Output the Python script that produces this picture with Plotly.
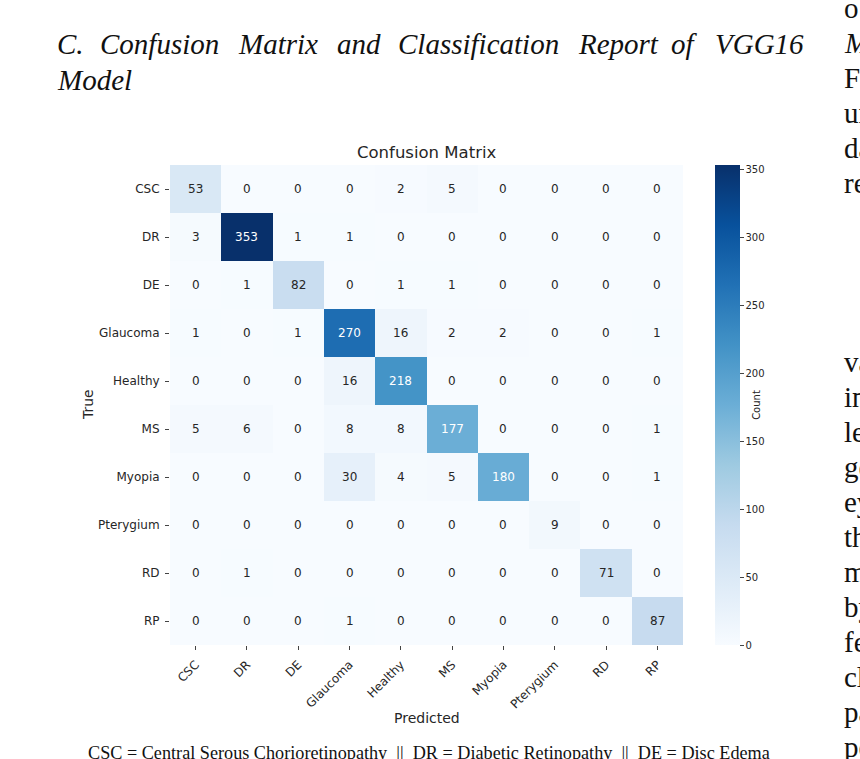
import plotly.graph_objects as go

# ---------------- data ----------------
classes = ["CSC", "DR", "DE", "Glaucoma", "Healthy", "MS", "Myopia", "Pterygium", "RD", "RP"]

row_csc = [53, 0, 0, 0, 2, 5, 0, 0, 0, 0]
row_dr = [3, 353, 1, 1, 0, 0, 0, 0, 0, 0]
row_de = [0, 1, 82, 0, 1, 1, 0, 0, 0, 0]
row_glaucoma = [1, 0, 1, 270, 16, 2, 2, 0, 0, 1]
row_healthy = [0, 0, 0, 16, 218, 0, 0, 0, 0, 0]
row_ms = [5, 6, 0, 8, 8, 177, 0, 0, 0, 1]
row_myopia = [0, 0, 0, 30, 4, 5, 180, 0, 0, 1]
row_pterygium = [0, 0, 0, 0, 0, 0, 0, 9, 0, 0]
row_rd = [0, 1, 0, 0, 0, 0, 0, 0, 71, 0]
row_rp = [0, 0, 0, 1, 0, 0, 0, 0, 0, 87]

cbar_ticks = [0, 50, 100, 150, 200, 250, 300, 350]

heading_words = ["C.", "Confusion", "Matrix", "and", "Classification", "Report", "of", "VGG16"]
heading_line2 = "Model"
caption = "CSC = Central Serous Chorioretinopathy \u00a0||\u00a0 DR = Diabetic Retinopathy \u00a0||\u00a0 DE = Disc Edema"
side_column = ["o", "<i>M</i>", "F", "un", "da", "re",
               "va", "in", "le", "ge", "ey", "th", "m", "by", "fe", "cl", "pa", "pe"]

z = [row_csc, row_dr, row_de, row_glaucoma, row_healthy,
     row_ms, row_myopia, row_pterygium, row_rd, row_rp]

# ---------------- styling ----------------
W, H = 860, 759
blues_hex = ["#f7fbff", "#deebf7", "#c6dbef", "#9ecae1", "#6baed6",
             "#4292c6", "#2171b5", "#08519c", "#08306b"]
blues = [[i / 8, c] for i, c in enumerate(blues_hex)]
zmax = max(max(r) for r in z)

SANS = "DejaVu Sans"
SERIF = "Liberation Serif, Times New Roman, serif"
TXT = "#262626"


def px_x(p):
    return p / W


def px_y(p):
    return 1 - p / H


def hex2rgb(h):
    h = h.lstrip("#")
    return tuple(int(h[i:i + 2], 16) for i in (0, 2, 4))


def color_at(t):
    t = min(max(t, 0), 1) * 8
    i = min(int(t), 7)
    f = t - i
    a, b = hex2rgb(blues_hex[i]), hex2rgb(blues_hex[i + 1])
    return tuple(a[k] + (b[k] - a[k]) * f for k in range(3))


def lum(rgb):
    out = []
    for c in rgb:
        c = c / 255
        out.append(c / 12.92 if c <= 0.03928 else ((c + 0.055) / 1.055) ** 2.4)
    return 0.2126 * out[0] + 0.7152 * out[1] + 0.0722 * out[2]


fig = go.Figure()
fig.add_trace(go.Heatmap(
    z=z, x=classes, y=classes,
    colorscale=blues, zmin=0, zmax=zmax,
    xgap=0, ygap=0, hoverinfo="skip",
    colorbar=dict(
        x=px_x(715), xanchor="left", xpad=0,
        y=px_y(405), yanchor="middle", ypad=0,
        len=480, lenmode="pixels",
        thickness=25, thicknessmode="pixels",
        outlinewidth=0,
        tickvals=cbar_ticks, ticks="outside", ticklen=4, tickwidth=1,
        tickcolor="#444",
        tickfont=dict(family=SANS, size=10, color=TXT),
        title=dict(text="Count", side="right", font=dict(family=SANS, size=10, color=TXT)),
    ),
))

annotations = []
for i, row in enumerate(z):
    for j, v in enumerate(row):
        col = "white" if lum(color_at(v / zmax)) < 0.408 else TXT
        annotations.append(dict(
            x=classes[j], y=classes[i], xref="x", yref="y", text=str(v),
            showarrow=False, font=dict(family=SANS, size=12, color=col)))

annotations += [
    dict(x=px_x(426.5), y=px_y(153), xref="paper", yref="paper", text="Confusion Matrix",
         showarrow=False, xanchor="center", yanchor="middle",
         font=dict(family=SANS, size=16.5, color=TXT)),
    dict(x=px_x(427), y=px_y(718), xref="paper", yref="paper", text="Predicted",
         showarrow=False, xanchor="center", yanchor="middle",
         font=dict(family=SANS, size=14, color=TXT)),
    dict(x=px_x(88), y=px_y(405), xref="paper", yref="paper", text="True", textangle=-90,
         showarrow=False, xanchor="center", yanchor="middle",
         font=dict(family=SANS, size=14, color=TXT)),
    dict(x=px_x(429), y=px_y(753), xref="paper", yref="paper", text=caption,
         showarrow=False, xanchor="center", yanchor="middle",
         font=dict(family=SERIF, size=18.2, color="#111")),
]

heading_x = [55, 98, 236, 335, 396, 576, 669, 713]
for w, xp in zip(heading_words, heading_x):
    annotations.append(dict(x=px_x(xp), y=px_y(44), xref="paper", yref="paper",
                            text="<i>" + w + "</i>", showarrow=False,
                            xanchor="left", yanchor="middle",
                            font=dict(family=SERIF, size=29, color="#111")))
annotations.append(dict(x=px_x(55), y=px_y(80), xref="paper", yref="paper",
                        text="<i>" + heading_line2 + "</i>", showarrow=False,
                        xanchor="left", yanchor="middle",
                        font=dict(family=SERIF, size=29, color="#111")))

side_y = [8, 43, 78, 113, 148, 183, 362, 397, 432, 467, 502, 537, 572, 607, 642, 677, 712, 747]
for t, yp in zip(side_column, side_y):
    annotations.append(dict(x=px_x(842), y=px_y(yp), xref="paper", yref="paper",
                            text=t, showarrow=False, xanchor="left", yanchor="middle",
                            font=dict(family=SERIF, size=29, color="#111")))

fig.update_layout(
    width=W, height=H,
    margin=dict(l=0, r=0, t=0, b=0),
    paper_bgcolor="white", plot_bgcolor="white",
    showlegend=False,
    xaxis=dict(domain=[px_x(170), px_x(683)], showgrid=False, zeroline=False, showline=False,
               ticks="outside", ticklen=4, tickwidth=1, tickcolor="#444",
               ticklabelstandoff=3,
               tickangle=-45, tickfont=dict(family=SANS, size=12, color=TXT),
               fixedrange=True),
    yaxis=dict(domain=[px_y(645), px_y(165)], autorange="reversed", showgrid=False,
               zeroline=False, showline=False,
               ticks="outside", ticklen=4, tickwidth=1, tickcolor="#444",
               ticklabelstandoff=3,
               tickfont=dict(family=SANS, size=12, color=TXT), fixedrange=True),
    annotations=annotations,
)

fig.write_html(
    "out.html",
    config={"displayModeBar": False},
    post_script="document.body.style.margin='0';document.body.style.overflow='hidden';",
)
